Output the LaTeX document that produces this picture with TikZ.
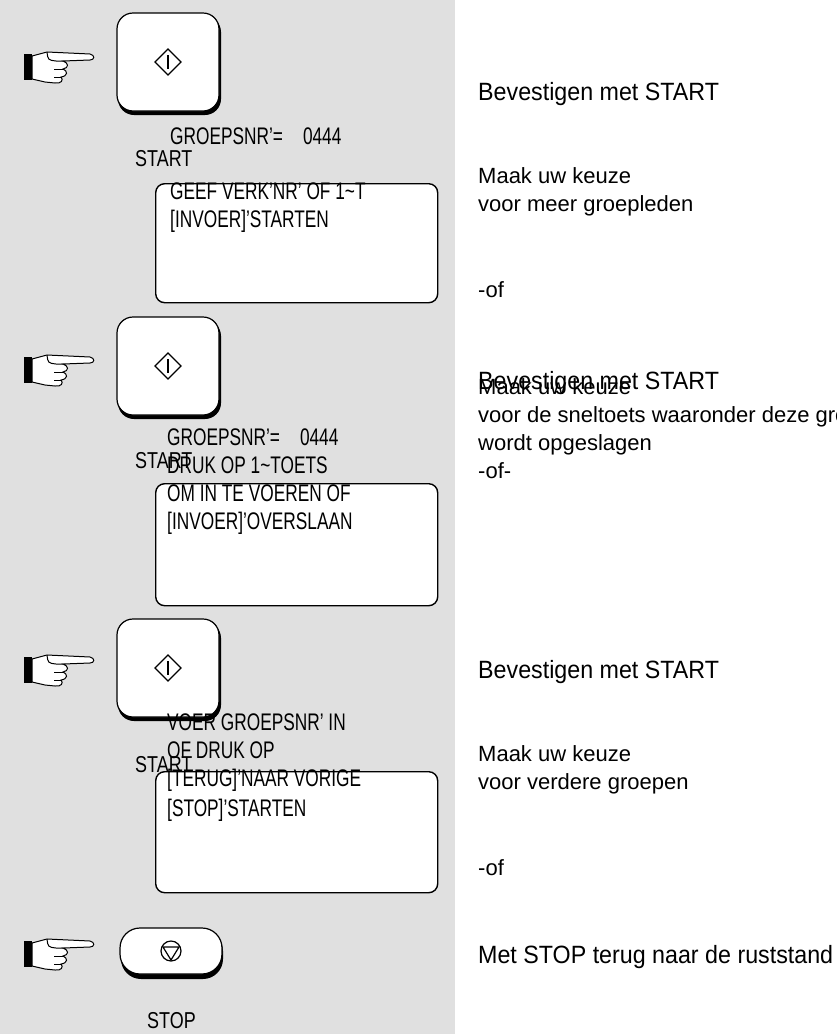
\documentclass[tikz,border=0pt]{standalone}
\usepackage{fontspec}
\setmainfont{Liberation Sans}
\usetikzlibrary{positioning,shapes.geometric,calc}
\tikzset{
  key/.style={draw, fill=white, line width=1.2pt, rounded corners=16pt, minimum width=102pt, minimum height=98pt},
  stopkey/.style={draw, fill=white, line width=1.2pt, rounded corners=20pt, minimum width=102pt, minimum height=46pt},
  keyshadow/.style={fill=black, rounded corners=16pt},
  screen/.style={draw, fill=white, line width=1.4pt, rounded corners=9pt, minimum width=282pt, anchor=north west},
  screentext/.style={align=left, anchor=base west, inner sep=0pt, font=\fontsize{24}{28}\selectfont\addfontfeature{FakeStretch=0.72}},
  keylabel/.style={anchor=base west, inner sep=0pt, font=\fontsize{23}{26}\selectfont\addfontfeature{FakeStretch=0.78}},
  big/.style={anchor=base west, inner sep=0pt, font=\fontsize{25}{28}\selectfont\addfontfeature{FakeStretch=0.93}},
  small/.style={align=left, anchor=base west, inner sep=0pt, font=\fontsize{22}{27.7}\selectfont}
}
\newcommand{\pointer}[1]{%
  \begin{scope}[shift={(#1)}, line width=1pt]
    \fill (-33,-11) rectangle (-25,15);
    \draw[fill=white] (-25,-9) -- (-10,-13) -- (33,-11) .. controls (38,-10) and (38,-5) .. (33,-5)
      -- (6,-4) .. controls (12,-2) and (12,3) .. (6,4) .. controls (11,6) and (11,11) .. (4,12)
      .. controls (7,15) and (4,19) .. (-2,18) -- (-12,17) -- (-25,14) -- cycle;
    \draw (-10,-13) .. controls (-9,-5) .. (-1,-4) -- (6,-4);
    \draw (-3,4) -- (6,4) (-3,12) -- (4,12);
  \end{scope}}
\newcommand{\startsym}[1]{%
  \draw[line width=1.2pt] ($(#1)+(0,-13)$) -- ($(#1)+(13,0)$) -- ($(#1)+(0,13)$) -- ($(#1)+(-13,0)$) -- cycle;
  \draw[line width=2pt] ($(#1)+(0,-7)$) -- ($(#1)+(0,7)$);}
\begin{document}
\begin{tikzpicture}[x=1pt,y=-1pt]
\fill[black!12] (0,0) rectangle (455,1034);
\useasboundingbox (0,0) rectangle (837,1034);
% keys
\fill[keyshadow] (118,16) rectangle (221,115);
\fill[keyshadow] (118,320) rectangle (221,419);
\fill[keyshadow] (118,622) rectangle (221,721);
\fill[keyshadow, rounded corners=20pt] (121,931) rectangle (223,979);
\node (k1) [key] at (168,62) {};
\node (k2) [key] at (168,366) {};
\node (k3) [key] at (168,668) {};
\node (k4) [stopkey] at (171,951) {};
\startsym{k1}
\startsym{k2}
\startsym{k3}
\draw[line width=1.2pt] (k4) circle (10);
\draw[line width=1.2pt] ($(k4)+(-8,-4)$) -- ($(k4)+(8,-4)$) -- ($(k4)+(0,9)$) -- cycle;
\pointer{57,65}
\pointer{57,368}
\pointer{57,668}
\pointer{57,952}
\node (l1) [keylabel] at (135,166) {START};
\node (l2) [keylabel] at (135,468) {START};
\node (l3) [keylabel] at (135,772) {START};
\node (l4) [keylabel] at (147,1028) {STOP};
% displays
\node (s1) [screen, minimum height=119pt] at (155,183) {};
\node (t1) [screentext] at (170,227) {GROEPSNR'{}=\hspace{20pt}0444\\[27pt]GEEF VERK'NR' OF 1\textasciitilde T\\{[INVOER]'STARTEN}};
\node (s2) [screen, minimum height=122pt] at (155,483) {};
\node (t2) [screentext] at (167,529) {GROEPSNR'{}=\hspace{20pt}0444\\DRUK OP 1\textasciitilde TOETS\\OM IN TE VOEREN OF\\{[INVOER]'OVERSLAAN}};
\node (s3) [screen, minimum height=121pt] at (155,771) {};
\node (t3) [screentext] at (167,816) {VOER GROEPSNR' IN\\OF DRUK OP\\{[TERUG]'NAAR VORIGE}\\[2pt]{[STOP]'STARTEN}};
% right column
\node (b1) [big] at (478,100) {Bevestigen met START};
\node (m1) [small] at (478,211) {Maak uw keuze\\voor meer groepleden};
\node (o1) [small] at (478,297) {-of};
\node (b2) [big] at (478,389) {Bevestigen met START};
\node (m2) [small] at (478,478) {Maak uw keuze\\voor de sneltoets waaronder deze groep\\wordt opgeslagen\\-of-};
\node (b3) [big] at (478,678) {Bevestigen met START};
\node (m3) [small] at (478,789) {Maak uw keuze\\voor verdere groepen};
\node (o3) [small] at (478,875) {-of};
\node (b4) [big] at (478,963) {Met STOP terug naar de ruststand};
\end{tikzpicture}
\end{document}
